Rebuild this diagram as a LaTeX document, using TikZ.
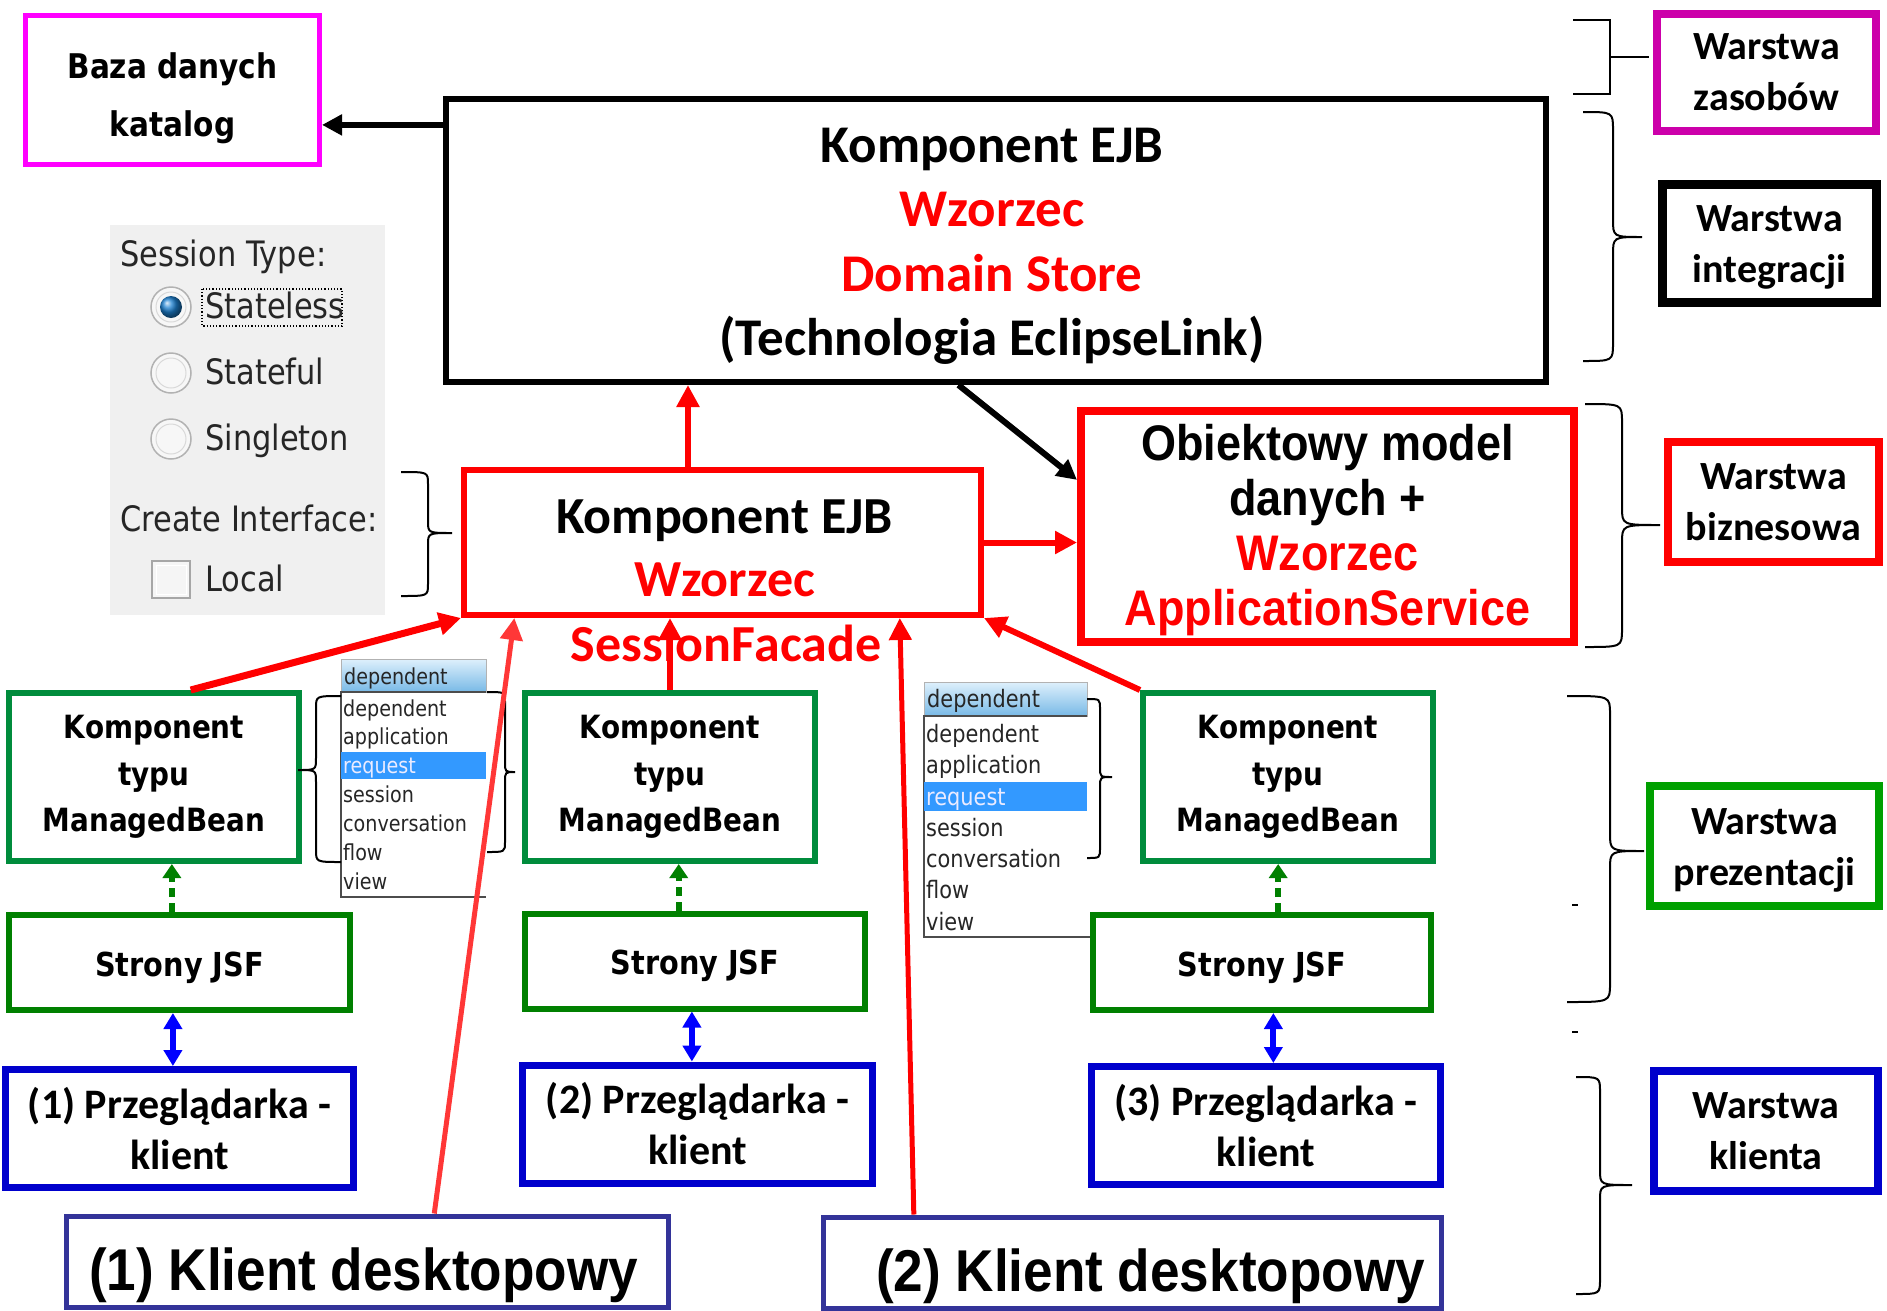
\documentclass[tikz,border=0pt]{standalone}
\usepackage{fontspec}
\setmainfont{Carlito}
\newfontfamily\tah[FakeStretch=0.87]{DejaVu Sans}
\newfontfamily\arn[FakeStretch=0.9]{Liberation Sans}
\usetikzlibrary{arrows.meta,calc}
\definecolor{dbmag}{RGB}{255,0,255}
\definecolor{zasmag}{RGB}{204,0,170}
\definecolor{mbgreen}{RGB}{0,140,60}
\definecolor{jsfgreen}{RGB}{0,128,0}
\definecolor{lpgreen}{RGB}{0,160,0}
\definecolor{brblue}{RGB}{0,0,204}
\definecolor{dkblue}{RGB}{51,51,153}
\definecolor{arrblue}{RGB}{0,0,255}
\definecolor{lightred}{RGB}{255,55,55}
\definecolor{ddsel}{RGB}{51,153,255}
\definecolor{ddtop}{RGB}{222,240,252}
\definecolor{ddbot}{RGB}{120,185,230}
\definecolor{panelgray}{RGB}{240,240,240}
\definecolor{radioblue}{RGB}{30,130,210}
\newcommand\fsz[2]{\fontsize{#1}{#2}\selectfont}
\newcommand\curlyb[7]{\draw[braceline] (#1,#2) .. controls (#4,#2) .. (#4,#2+#7) -- (#4,#6-#7) .. controls (#4,#6) .. (#5,#6) .. controls (#4,#6) .. (#4,#6+#7) -- (#4,#3-#7) .. controls (#4,#3) .. (#1,#3);}
\begin{document}
\begin{tikzpicture}[x=1pt,y=-1pt,
  box/.style={draw, inner sep=0pt, align=center},
  txt/.style={inner sep=0pt, align=center},
  lbl/.style={inner sep=0pt, anchor=west, text height=0.72em, text depth=0.2em, text=black!85, font={\tah\fsz{35}{40}}},
  ddtext/.style={inner sep=0pt, anchor=west, text height=0.72em, text depth=0.2em, text=black!85},
  braceline/.style={line width=2pt, black},
  layerbox/.style={box, line width=8pt, font={\bfseries\fsz{40}{51}}},
  layertxt/.style={txt, font={\bfseries\fsz{40}{51}}},
  mbbox/.style={box, draw=mbgreen, line width=6pt, minimum width=290pt, minimum height=168pt, font={\tah\bfseries\fsz{32}{46.5}}},
  jsfbox/.style={box, draw=jsfgreen, line width=6pt, minimum height=95pt},
  jsftxt/.style={txt, font={\tah\bfseries\fsz{33}{40}}},
  brbox/.style={box, draw=brblue, line width=7pt, minimum height=118pt, font={\bfseries\fsz{42}{51}}},
  dkbox/.style={box, draw=dkblue, line width=5pt, minimum height=91pt},
  dktxt/.style={txt, font={\arn\bfseries\fsz{59}{66}}},
  redarr/.style={draw=red, line width=6pt, -{Triangle[length=22pt,width=22pt]}},
  blackarr/.style={draw=black, line width=6pt, -{Triangle[length=20pt,width=20pt]}},
  greenarr/.style={draw=jsfgreen, line width=6pt, dash pattern=on 9pt off 6pt, -{Triangle[length=14pt,width=18pt]}},
  bluearr/.style={draw=arrblue, line width=6pt, {Triangle[length=16pt,width=18pt]}-{Triangle[length=16pt,width=18pt]}}
]
\useasboundingbox (0,0) rectangle (1887,1310);

% ---------- main boxes ----------
\node[box, draw=dbmag, line width=5pt, minimum width=294pt, minimum height=149pt] (db) at (172.5,90) {};
\node[txt, font={\tah\bfseries\fsz{34}{58}}] (dbT) at ($(db.center)+(0,8)$) {Baza danych\\katalog};

\node[box, line width=6pt, minimum width=1100pt, minimum height=283pt] (top) at (996,240.5) {};
\node[txt, font={\bfseries\fsz{53}{64.5}}] (topT) at ($(top.center)+(-4,6)$)
  {Komponent EJB\\\textcolor{red}{Wzorzec}\\\textcolor{red}{Domain Store}\\(Technologia EclipseLink)};

\node[box, draw=red, line width=6pt, minimum width=517pt, minimum height=145pt] (mid) at (722.5,542.5) {};
\node[txt, font={\bfseries\fsz{52}{63}}] (midT) at ($(mid.center)+(2,6)$) {Komponent EJB\\\textcolor{red}{Wzorzec}};
\node[txt, text=red, font={\bfseries\fsz{52}{63}}] (sf) at (726,643) {SessionFacade};

\node[box, draw=red, line width=8pt, minimum width=493pt, minimum height=231pt] (obj) at (1327.5,526.5) {};
\node[txt, font={\arn\bfseries\fsz{50}{55}}] (objT) at ($(obj.center)+(0,4)$)
  {Obiektowy model\\danych +\\\textcolor{red}{Wzorzec}\\\textcolor{red}{ApplicationService}};

% ---------- session panel ----------
\node[fill=panelgray, minimum width=275pt, minimum height=390pt, inner sep=0pt] (panel) at (247.5,420) {};
\node[lbl] (stype) at (120,264) {Session Type:};
\foreach \yy in {307,373,439}{
  \draw[gray!60, line width=1.5pt, fill=gray!6] (171,\yy) circle (20);
  \draw[gray!30, line width=1pt] (171,\yy) circle (15);
}
\shade[ball color=radioblue] (171,307) circle (11);
\draw[black, dotted, line width=1.2pt] (202,289) rectangle (342,326);
\node[lbl] (sl) at (205,316) {Stateless};
\node[lbl] (sf2) at (205,382) {Stateful};
\node[lbl] (sg) at (205,448) {Singleton};
\node[lbl] (ci) at (120,529) {Create Interface:};
\draw[gray!70, line width=1.5pt, fill=gray!8] (152,561) rectangle (190,598);
\draw[white, line width=1pt] (156,565) rectangle (186,594);
\node[lbl] (loc) at (205,589) {Local};

% ---------- presentation tier ----------
\node[mbbox] (mb1) at (154,777) {Komponent\\typu\\ManagedBean};
\node[mbbox] (mb2) at (670,777) {Komponent\\typu\\ManagedBean};
\node[mbbox] (mb3) at (1288,777) {Komponent\\typu\\ManagedBean};

\node[jsfbox, minimum width=341pt] (jsf1) at (179.5,962.5) {};
\node[jsftxt] (jsf1T) at ($(jsf1.center)+(0,5)$) {Strony JSF};
\node[jsfbox, minimum width=340pt] (jsf2) at (695,961) {};
\node[jsftxt] (jsf2T) at ($(jsf2.center)+(0,5)$) {Strony JSF};
\node[jsfbox, minimum width=338pt] (jsf3) at (1262,962.5) {};
\node[jsftxt] (jsf3T) at ($(jsf3.center)+(0,5)$) {Strony JSF};

\node[brbox, minimum width=348pt] (br1) at (179.5,1128.5) {(1) Przeglądarka -\\klient};
\node[brbox, minimum width=350pt] (br2) at (697.5,1124) {(2) Przeglądarka -\\klient};
\node[brbox, minimum width=349pt] (br3) at (1266,1125.5) {(3) Przeglądarka -\\klient};

\node[dkbox, minimum width=602pt] (dk1) at (367.5,1261.5) {};
\node[dktxt] (dk1T) at ($(dk1.center)+(-4,14)$) {(1) Klient desktopowy};
\node[dkbox, minimum width=618pt] (dk2) at (1132.5,1262.5) {};
\node[dktxt] (dk2T) at ($(dk2.center)+(18,14)$) {(2) Klient desktopowy};

% ---------- dropdown lists ----------
\shade[top color=ddtop, bottom color=ddbot] (341,659) rectangle (486,692);
\draw[gray!60, line width=1pt] (341,659) rectangle (486,692);
\fill[white] (341,692) rectangle (486,897);
\draw[black!70, line width=1.2pt] (486,692) -- (341,692) -- (341,897) -- (486,897);
\fill[ddsel] (341,752) rectangle (486,779);
\node[ddtext, font={\tah\fsz{22}{26}}] (d1h) at (344,682) {dependent};
\node[ddtext, font={\tah\fsz{22}{26}}] (d1a) at (343,714) {dependent};
\node[ddtext, font={\tah\fsz{22}{26}}] (d1b) at (343,742) {application};
\node[ddtext, font={\tah\fsz{22}{26}}, text=white!92!blue] (d1c) at (343,771) {request};
\node[ddtext, font={\tah\fsz{22}{26}}] (d1d) at (343,800) {session};
\node[ddtext, font={\tah\fsz{22}{26}}] (d1e) at (343,829) {conversation};
\node[ddtext, font={\tah\fsz{22}{26}}] (d1f) at (343,858) {flow};
\node[ddtext, font={\tah\fsz{22}{26}}] (d1g) at (343,887) {view};

\shade[top color=ddtop, bottom color=ddbot] (924,682) rectangle (1087,716);
\draw[gray!60, line width=1pt] (924,682) rectangle (1087,716);
\fill[white] (924,716) rectangle (1087,937);
\draw[black!70, line width=1.2pt] (1087,716) -- (924,716) -- (924,937) -- (1090,937);
\fill[ddsel] (924,782) rectangle (1087,811);
\node[ddtext, font={\tah\fsz{24}{28}}] (d2h) at (927,705) {dependent};
\node[ddtext, font={\tah\fsz{24}{28}}] (d2a) at (926,740) {dependent};
\node[ddtext, font={\tah\fsz{24}{28}}] (d2b) at (926,771) {application};
\node[ddtext, font={\tah\fsz{24}{28}}, text=white!92!blue] (d2c) at (926,803) {request};
\node[ddtext, font={\tah\fsz{24}{28}}] (d2d) at (926,834) {session};
\node[ddtext, font={\tah\fsz{24}{28}}] (d2e) at (926,865) {conversation};
\node[ddtext, font={\tah\fsz{24}{28}}] (d2f) at (926,896) {flow};
\node[ddtext, font={\tah\fsz{24}{28}}] (d2g) at (926,928) {view};

% ---------- layer labels ----------
\node[layerbox, draw=zasmag, minimum width=219pt, minimum height=117pt] (lz) at (1766.5,72.5) {Warstwa\\zasobów};
\node[layerbox, draw=black, line width=9pt, minimum width=214pt, minimum height=118pt] (li) at (1769.5,243.5) {};
\node[layertxt] (liT) at ($(li.center)+(0,4)$) {Warstwa\\integracji};
\node[layerbox, draw=red, minimum width=211pt, minimum height=120pt] (lb) at (1773.5,502) {Warstwa\\biznesowa};
\node[layerbox, draw=lpgreen, minimum width=229pt, minimum height=120pt] (lp) at (1764.5,846) {};
\node[layertxt] (lpT) at ($(lp.center)+(0,4)$) {Warstwa\\prezentacji};
\node[layerbox, draw=brblue, minimum width=224pt, minimum height=120pt] (lk) at (1766,1131) {Warstwa\\klienta};

% ---------- braces ----------
\draw[braceline] (1573,20) -- (1610,20) -- (1610,94) -- (1573,94);
\draw[braceline] (1610,57) -- (1649,57);
\curlyb{1583}{112}{361}{1613}{1642}{237}{18}
\curlyb{1585}{404}{647}{1622}{1660}{525}{18}
\curlyb{1567}{696}{1002}{1610}{1644}{851}{18}
\curlyb{1576}{1077}{1294}{1600}{1632}{1185}{15}
\draw[line width=1.5pt] (1572,905) -- (1578,905);
\draw[line width=1.5pt] (1572,1032) -- (1578,1032);
\curlyb{401}{472}{596}{428}{452}{533}{12}
\curlyb{341}{696}{862}{316}{298}{770}{12}
\curlyb{487}{692}{852}{505}{515}{772}{10}
\curlyb{1087}{699}{858}{1100}{1112}{777}{10}

% ---------- connectors ----------
\coordinate (t1) at ($(top.north west)!0.1!(top.south west)$);
\draw[blackarr] (t1) -- (t1 -| db.east);

\coordinate (m1) at ($(mid.north west)!0.434!(mid.north east)$);
\draw[redarr] (m1) -- (m1 |- top.south);

\coordinate (t2) at ($(top.south west)!0.466!(top.south east)$);
\coordinate (o1) at ($(obj.north west)!0.305!(obj.south west)$);
\draw[blackarr] (t2) -- (o1);

\draw[redarr] (mid.east) -- (mid.east -| obj.west);

\coordinate (mb1t) at ($(mb1.north west)!0.624!(mb1.north east)$);
\draw[redarr, line width=7pt] (mb1t) -- (mid.south west);
\draw[redarr] (mb2.north) -- (mb2.north |- mid.south);
\draw[redarr] (mb3.north west) -- (mid.south east);

\coordinate (dk1t) at ($(dk1.north west)!0.61!(dk1.north east)$);
\coordinate (mdk1) at ($(mid.south west)!0.102!(mid.south east)$);
\draw[redarr, draw=lightred, line width=5pt] (dk1t) -- (mdk1);
\coordinate (dk2t) at ($(dk2.north west)!0.149!(dk2.north east)$);
\coordinate (mdk2) at ($(mid.south west)!0.839!(mid.south east)$);
\draw[redarr, line width=5pt] (dk2t) -- (mdk2);

\coordinate (g1) at ($(jsf1.north west)!0.478!(jsf1.north east)$);
\draw[greenarr] (g1) -- (g1 |- mb1.south);
\coordinate (g2) at ($(jsf2.north west)!0.453!(jsf2.north east)$);
\draw[greenarr] (g2) -- (g2 |- mb2.south);
\coordinate (g3) at ($(jsf3.north west)!0.547!(jsf3.north east)$);
\draw[greenarr] (g3) -- (g3 |- mb3.south);

\coordinate (b1) at ($(jsf1.south west)!0.481!(jsf1.south east)$);
\draw[bluearr] (b1) -- (b1 |- br1.north);
\coordinate (b2) at ($(jsf2.south west)!0.491!(jsf2.south east)$);
\draw[bluearr] (b2) -- (b2 |- br2.north);
\coordinate (b3) at ($(jsf3.south west)!0.533!(jsf3.south east)$);
\draw[bluearr] (b3) -- (b3 |- br3.north);
\end{tikzpicture}
\end{document}
